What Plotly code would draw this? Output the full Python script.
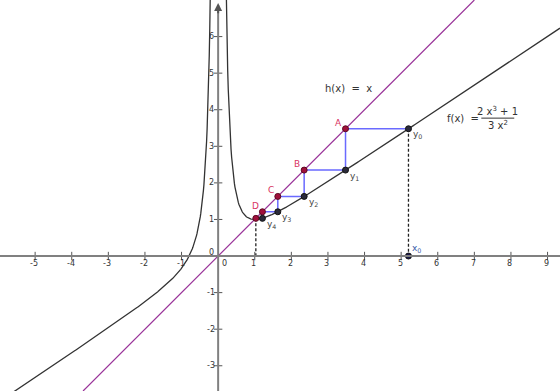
import numpy as np
import plotly.graph_objects as go

# ---- data ----
x_ticks = [-5, -4, -3, -2, -1, 1, 2, 3, 4, 5, 6, 7, 8, 9]
y_ticks = [-3, -2, -1, 1, 2, 3, 4, 5, 6]
x0_val = 5.2
iter_x = [5.2, 3.48, 2.35, 1.63, 1.21]      # abscissae of points on f
iter_y = [3.48, 2.35, 1.63, 1.21, 1.03]     # y0..y4
h_labels = ["A", "B", "C", "D"]
f_labels = ["y<sub>0</sub>", "y<sub>1</sub>", "y<sub>2</sub>", "y<sub>3</sub>", "y<sub>4</sub>"]
fixed_point = 1.03

X_RANGE = [-5.96, 9.34]
Y_RANGE = [-3.69, 7.0]

AXIS_C = "#808080"
F_C = "#333333"
H_C = "#993399"
BLUE = "#6a6aff"
RED_FILL = "#a0103c"
RED_TXT = "#d8345f"
FONT = "DejaVu Sans"

def f(x):
    return (2 * x**3 + 1) / (3 * x**2)

fig = go.Figure()

# f curve (two branches)
xl = np.linspace(X_RANGE[0], -0.2, 400)
xr = np.linspace(0.2, X_RANGE[1], 600)
fig.add_trace(go.Scatter(x=np.concatenate([xl, [None], xr]),
                         y=np.concatenate([f(xl), [None], f(xr)]),
                         mode="lines", line=dict(color=F_C, width=1.3),
                         hoverinfo="skip", connectgaps=False))
# h(x) = x
fig.add_trace(go.Scatter(x=[Y_RANGE[0], Y_RANGE[1]], y=[Y_RANGE[0], Y_RANGE[1]],
                         mode="lines", line=dict(color=H_C, width=1.2)))

# cobweb (blue)
cx, cy = [], []
for i in range(len(iter_y) - 1):
    cx += [iter_x[i], iter_y[i], iter_y[i]]
    cy += [iter_y[i], iter_y[i], iter_y[i + 1]]
fig.add_trace(go.Scatter(x=cx, y=cy, mode="lines", line=dict(color=BLUE, width=1.5)))

# dashed verticals
fig.add_trace(go.Scatter(x=[x0_val, x0_val], y=[iter_y[0], 0], mode="lines",
                         line=dict(color="#222222", width=1.3, dash="3px,2px")))
fig.add_trace(go.Scatter(x=[fixed_point, fixed_point], y=[fixed_point, 0], mode="lines",
                         line=dict(color="#222222", width=1.3, dash="3px,2px")))

# axes
fig.add_shape(type="line", x0=X_RANGE[0], x1=X_RANGE[1], y0=0, y1=0,
              line=dict(color=AXIS_C, width=2))
fig.add_shape(type="line", x0=0, x1=0, y0=Y_RANGE[0], y1=6.8,
              line=dict(color=AXIS_C, width=2))
fig.add_annotation(x=0, y=6.92, ax=0, ay=6.6, xref="x", yref="y", axref="x", ayref="y",
                   showarrow=True, arrowhead=2, arrowsize=0.8, arrowwidth=2,
                   arrowcolor="#555555", text="")

# tick marks
fig.add_trace(go.Scatter(x=x_ticks, y=[0] * len(x_ticks), mode="markers",
                         marker=dict(symbol="line-ns", size=6, line=dict(color="#555555", width=1))))
fig.add_trace(go.Scatter(x=[0] * len(y_ticks), y=y_ticks, mode="markers",
                         marker=dict(symbol="line-ew", size=6, line=dict(color="#555555", width=1))))

# tick labels
for t in x_ticks:
    fig.add_annotation(x=t, y=0, text=str(t), showarrow=False, yshift=-7, xshift=-1,
                       font=dict(family=FONT, size=8, color="#333333"))
for t in y_ticks:
    fig.add_annotation(x=0, y=t, text=str(t), showarrow=False, xshift=-7,
                       font=dict(family=FONT, size=8, color="#333333"))
fig.add_annotation(x=0, y=0, text="0", showarrow=False, xshift=-7, yshift=4,
                   font=dict(family=FONT, size=8, color="#333333"))
fig.add_annotation(x=0, y=0, text="0", showarrow=False, xshift=6, yshift=-7,
                   font=dict(family=FONT, size=8, color="#333333"))

# points on f (dark)
fig.add_trace(go.Scatter(x=iter_x, y=iter_y, mode="markers",
                         marker=dict(size=6, color="#2a2a3a", line=dict(color="#111111", width=1))))
# x0 point
fig.add_trace(go.Scatter(x=[x0_val], y=[0], mode="markers",
                         marker=dict(size=6, color="#1a1a4a", line=dict(color="#111111", width=1))))
# points on h (red)
hx = iter_y[:4] + [fixed_point]
fig.add_trace(go.Scatter(x=hx, y=hx, mode="markers",
                         marker=dict(size=6, color=RED_FILL, line=dict(color="#5a0a20", width=1))))

# point labels
for v, lab in zip(iter_y[:4], h_labels):
    fig.add_annotation(x=v, y=v, text=lab, showarrow=False, xshift=-7, yshift=6,
                       font=dict(family=FONT, size=9, color=RED_TXT))
for xv, yv, lab in zip(iter_x, iter_y, f_labels):
    fig.add_annotation(x=xv, y=yv, text=lab, showarrow=False, xshift=9, yshift=-6,
                       font=dict(family=FONT, size=9, color="#444444"))
fig.add_annotation(x=x0_val, y=0, text="x<sub>0</sub>", showarrow=False, xshift=8, yshift=8,
                   font=dict(family=FONT, size=9, color="#3a5aa8"))

# function labels
fig.add_annotation(x=3.55, y=4.59, text="h(x)  =  x", showarrow=False,
                   font=dict(family=FONT, size=10, color="#333333"))
fig.add_annotation(x=6.70, y=3.76, text="f(x)  =", showarrow=False,
                   font=dict(family=FONT, size=10, color="#333333"))
fig.add_annotation(x=7.64, y=3.97, text="2 x<sup>3</sup> + 1", showarrow=False,
                   font=dict(family=FONT, size=10, color="#333333"))
fig.add_annotation(x=7.64, y=3.58, text="3 x<sup>2</sup>", showarrow=False,
                   font=dict(family=FONT, size=10, color="#333333"))
fig.add_shape(type="line", x0=7.19, x1=8.09, y0=3.77, y1=3.77,
              line=dict(color="#333333", width=1))

fig.update_layout(
    width=560, height=391, margin=dict(l=0, r=0, t=0, b=0),
    paper_bgcolor="white", plot_bgcolor="white", showlegend=False,
    xaxis=dict(range=X_RANGE, visible=False, fixedrange=True),
    yaxis=dict(range=Y_RANGE, visible=False, fixedrange=True),
)
fig.write_html("out.html", config={"displayModeBar": False},
               post_script="document.body.style.margin='0';document.body.style.overflow='hidden';")
